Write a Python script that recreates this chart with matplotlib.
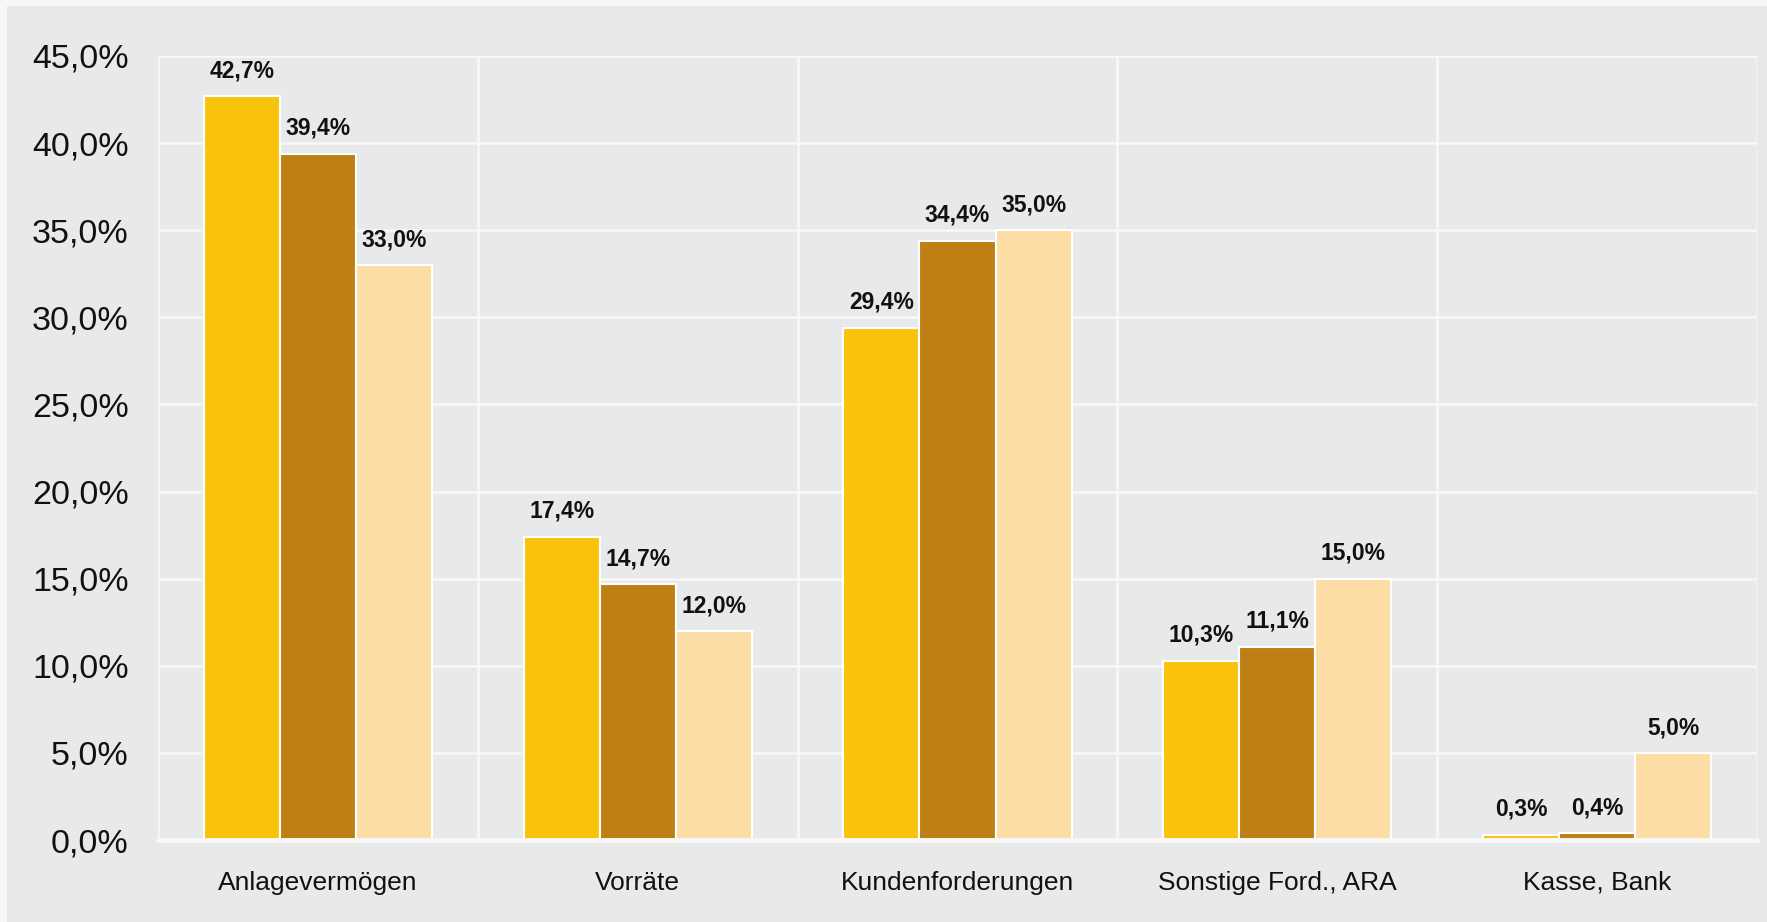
import matplotlib
matplotlib.use("Agg")
import matplotlib.pyplot as plt
from matplotlib.patches import Rectangle
from matplotlib.ticker import FuncFormatter
import numpy as np

plt.rcParams['font.family'] = ['Liberation Sans', 'DejaVu Sans']

categories = ["Anlagevermögen", "Vorräte", "Kundenforderungen",
              "Sonstige Ford., ARA", "Kasse, Bank"]
series_1 = [42.7, 17.4, 29.4, 10.3, 0.3]
series_2 = [39.4, 14.7, 34.4, 11.1, 0.4]
series_3 = [33.0, 12.0, 35.0, 15.0, 5.0]
y_ticks = [0, 5, 10, 15, 20, 25, 30, 35, 40, 45]

colors = ["#F9C30D", "#BE8015", "#FCDDA5"]
panel_bg = "#E8E9EB"
outer_bg = "#F7F7F7"
line_col = "#F8F8F8"

W, H = 1767, 922
fig = plt.figure(figsize=(W / 100, H / 100), dpi=100)
fig.patch.set_facecolor(outer_bg)
fig.patches.append(Rectangle((7 / W, 0), 1 - 7 / W, (H - 6) / H,
                             transform=fig.transFigure, facecolor=panel_bg,
                             edgecolor="none", zorder=-10))

ax = fig.add_axes([158 / W, 82 / H, (1757 - 158) / W, (840 - 56) / H])
ax.set_facecolor(panel_bg)
ax.patch.set_alpha(0)

def fmt(v):
    return f"{v:.1f}".replace(".", ",") + "%"

x = np.arange(len(categories))
width = 0.238
for i, (vals, col) in enumerate(zip([series_1, series_2, series_3], colors)):
    bars = ax.bar(x + (i - 1) * width, vals, width=width, color=col,
                  edgecolor="white", linewidth=1.5, zorder=3)
    for b, v in zip(bars, vals):
        ax.annotate(fmt(v), (b.get_x() + b.get_width() / 2, v),
                    xytext=(0, 10), textcoords="offset points",
                    ha="center", va="bottom", fontsize=16.5,
                    fontweight="bold", color="#111111", zorder=4,
                    annotation_clip=False)

ax.set_xlim(-0.5, len(categories) - 0.5)
ax.set_ylim(0, 45)
ax.set_yticks(y_ticks)
ax.yaxis.set_major_formatter(FuncFormatter(lambda v, p: fmt(v)))
ax.set_xticks(x)
ax.set_xticklabels(categories)
ax.tick_params(axis="y", length=0, pad=21, labelsize=24.5, labelcolor="#111111")
ax.tick_params(axis="x", length=0, pad=22, labelsize=19, labelcolor="#111111")

# horizontal grid at the ticks, vertical lines between categories
for yv in y_ticks[1:]:
    ax.axhline(yv, color=line_col, linewidth=1.8, zorder=1)
for xv in np.arange(-0.5, len(categories), 1.0):
    ax.axvline(xv, color=line_col, linewidth=1.8, zorder=1)
ax.axhline(0, color=line_col, linewidth=3.5, zorder=5,
           solid_capstyle="round", clip_on=False)

for s in ax.spines.values():
    s.set_visible(False)

fig.savefig("out.png", dpi=100, facecolor=fig.get_facecolor())
